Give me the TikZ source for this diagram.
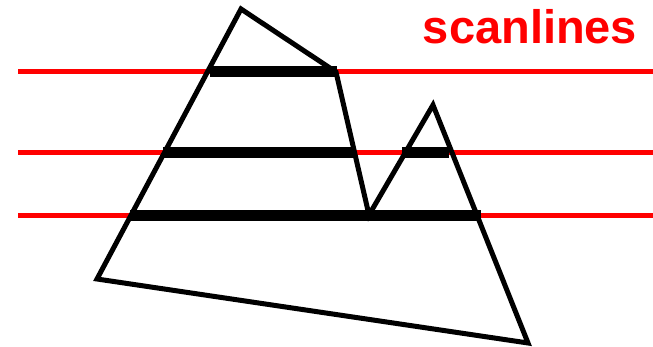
\documentclass[tikz,border=0pt]{standalone}
\usepackage{fontspec}
\setmainfont{Liberation Sans}
\begin{document}
\begin{tikzpicture}[x=1pt,y=-1pt,
  scan/.style={red,line width=5pt},
  span/.style={black,line width=11pt},
  poly/.style={black,line width=5pt,line join=miter}]
\useasboundingbox (0,0) rectangle (653,347);
% polygon vertices
\coordinate (p1) at (241,9);
\coordinate (p2) at (336,72);
\coordinate (p3) at (369,215);
\coordinate (p4) at (433,105);
\coordinate (p5) at (528,343);
\coordinate (p6) at (97,279);
% scanlines
\coordinate (s1l) at (18,72);  \coordinate (s1r) at (653,72);
\coordinate (s2l) at (18,153); \coordinate (s2r) at (653,153);
\coordinate (s3l) at (18,216); \coordinate (s3r) at (653,216);
\draw[scan] (s1l) -- (s1r);
\draw[scan] (s2l) -- (s2r);
\draw[scan] (s3l) -- (s3r);
% spans
\coordinate (a1) at (210,72);  \coordinate (b1) at (337,72);
\coordinate (a2) at (163,153); \coordinate (b2) at (355,153);
\coordinate (a3) at (402,153); \coordinate (b3) at (449,153);
\coordinate (a4) at (130,216); \coordinate (b4) at (481,216);
\draw[span] (a1) -- (b1);
\draw[span] (a2) -- (b2);
\draw[span] (a3) -- (b3);
\draw[span] (a4) -- (b4);
% polygon
\draw[poly] (p1) -- (p2) -- (p3) -- (p4) -- (p5) -- (p6) -- cycle;
\node[red,font=\bfseries\fontsize{47}{52}\selectfont,anchor=base,inner sep=0pt] (title) at (530,44) {scanlines};
\end{tikzpicture}
\end{document}
